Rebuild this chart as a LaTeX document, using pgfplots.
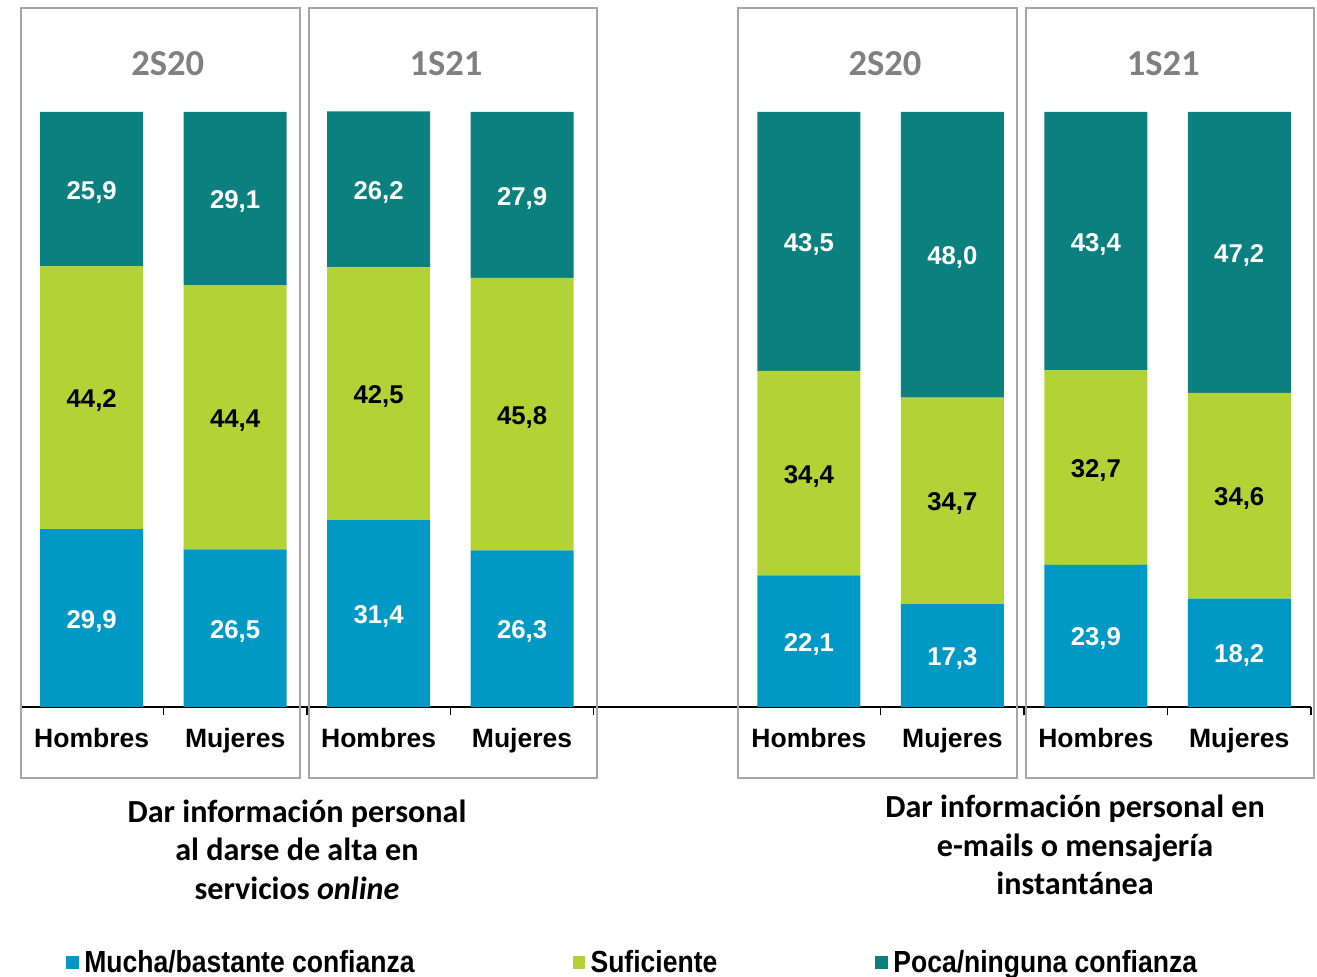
\documentclass[border=0pt]{standalone}
\usepackage{pgfplots}
\pgfplotsset{compat=1.18}
\usepackage{pgfplotstable}
\usepackage{fontspec}
\setmainfont{Liberation Sans}
\newfontfamily\carlito{Carlito}
\definecolor{cblue}{RGB}{0,153,198}
\definecolor{cgreen}{RGB}{179,210,54}
\definecolor{cteal}{RGB}{11,128,126}
\definecolor{boxgray}{RGB}{166,166,166}
\definecolor{headgray}{RGB}{128,128,128}
\pgfplotstableread{
x b g t
0 29.9 44.2 25.9
1 26.5 44.4 29.1
2 31.4 42.5 26.2
3 26.3 45.8 27.9
5 22.1 34.4 43.5
6 17.3 34.7 48.0
7 23.9 32.7 43.4
8 18.2 34.6 47.2
}\datatable
\begin{document}
\begin{tikzpicture}
\begin{axis}[
  x=107.58pt, y=4.4625pt,
  xmin=-0.5, xmax=8.5, ymin=0, ymax=100,
  enlargelimits=false,
  clip=false,
  ybar stacked, bar width=77.25pt,
  axis y line=none,
  axis x line*=bottom,
  x axis line style={black, line width=1pt},
  xtick={0,1,2,3,5,6,7,8},
  xticklabels={Hombres,Mujeres,Hombres,Mujeres,Hombres,Mujeres,Hombres,Mujeres},
  major tick length=0pt,
  extra x ticks={0.5,1.5,2.5,3.5,5.5,6.5,7.5,8.5},
  extra x tick labels={},
  extra x tick style={major tick length=6pt, xtick align=outside, tick style={black, line width=1pt}},
  xticklabel style={font=\fontsize{19.9}{24}\selectfont\bfseries, anchor=base, yshift=-30.2pt},
  /pgf/number format/assume math mode=true,
  point meta=explicit symbolic,
  nodes near coords={\pgfmathprintnumber[fixed,fixed zerofill,precision=1,use comma]{\pgfplotspointmeta}},
  every node near coord/.append style={anchor=center, yshift=-2.3pt, font=\fontsize{19.3}{23}\selectfont\bfseries},
  legend columns=3,
  legend style={draw=none, fill=none, at={(axis cs:-0.179,-42.9)}, anchor=west, inner sep=0pt,
    font=\fontsize{19.9}{24}\selectfont\bfseries,
    /tikz/every even column/.append style={column sep=116.5pt}},
  legend image code/.code={\fill[#1, draw=none] (0pt,-4.7pt) rectangle (9.5pt,4.7pt);},
]
\addplot[fill=cblue, draw=none, every node near coord/.append style={text=white}] table[x=x,y=b,meta=b]{\datatable};
\addplot[fill=cgreen, draw=none, every node near coord/.append style={text=black}] table[x=x,y=g,meta=g]{\datatable};
\addplot[fill=cteal, draw=none, every node near coord/.append style={text=white}] table[x=x,y=t,meta=t]{\datatable};
\legend{\hspace*{2pt}\scalebox{1}[1.15]{Mucha/bastante confianza},\hspace*{2pt}\scalebox{1}[1.15]{Suficiente},\hspace*{2pt}\scalebox{1}[1.15]{Poca/ninguna confianza}}

\draw[boxgray, line width=1.5pt] (axis cs:-0.493,117.5) rectangle (axis cs:1.452,-11.93);
\draw[boxgray, line width=1.5pt] (axis cs:1.515,117.5) rectangle (axis cs:3.523,-11.93);
\draw[boxgray, line width=1.5pt] (axis cs:4.506,117.5) rectangle (axis cs:6.451,-11.93);
\draw[boxgray, line width=1.5pt] (axis cs:6.513,117.5) rectangle (axis cs:8.521,-11.93);

\node[font=\carlito\bfseries\fontsize{27.4}{32}\selectfont, text=headgray] at (axis cs:0.53,108.2) {2S20};
\node[font=\carlito\bfseries\fontsize{27.4}{32}\selectfont, text=headgray] at (axis cs:2.47,108.2) {1S21};
\node[font=\carlito\bfseries\fontsize{27.4}{32}\selectfont, text=headgray] at (axis cs:5.53,108.2) {2S20};
\node[font=\carlito\bfseries\fontsize{27.4}{32}\selectfont, text=headgray] at (axis cs:7.47,108.2) {1S21};

\node[align=center, font=\carlito\bfseries\fontsize{24.1}{28.9}\selectfont] at (axis cs:1.431,-24.0) {Dar información personal\\al darse de alta en\\servicios \textit{online}};
\node[align=center, font=\carlito\bfseries\fontsize{24.1}{28.9}\selectfont] at (axis cs:6.855,-23.2) {Dar información personal en\\e-mails o mensajería\\instantánea};

\coordinate (pBL) at (axis cs:-0.6394,-45.38);
\coordinate (pTR) at (axis cs:8.542,118.82);
\end{axis}
\pgfresetboundingbox
\path[use as bounding box] (pBL) rectangle (pTR);
\end{tikzpicture}
\end{document}
